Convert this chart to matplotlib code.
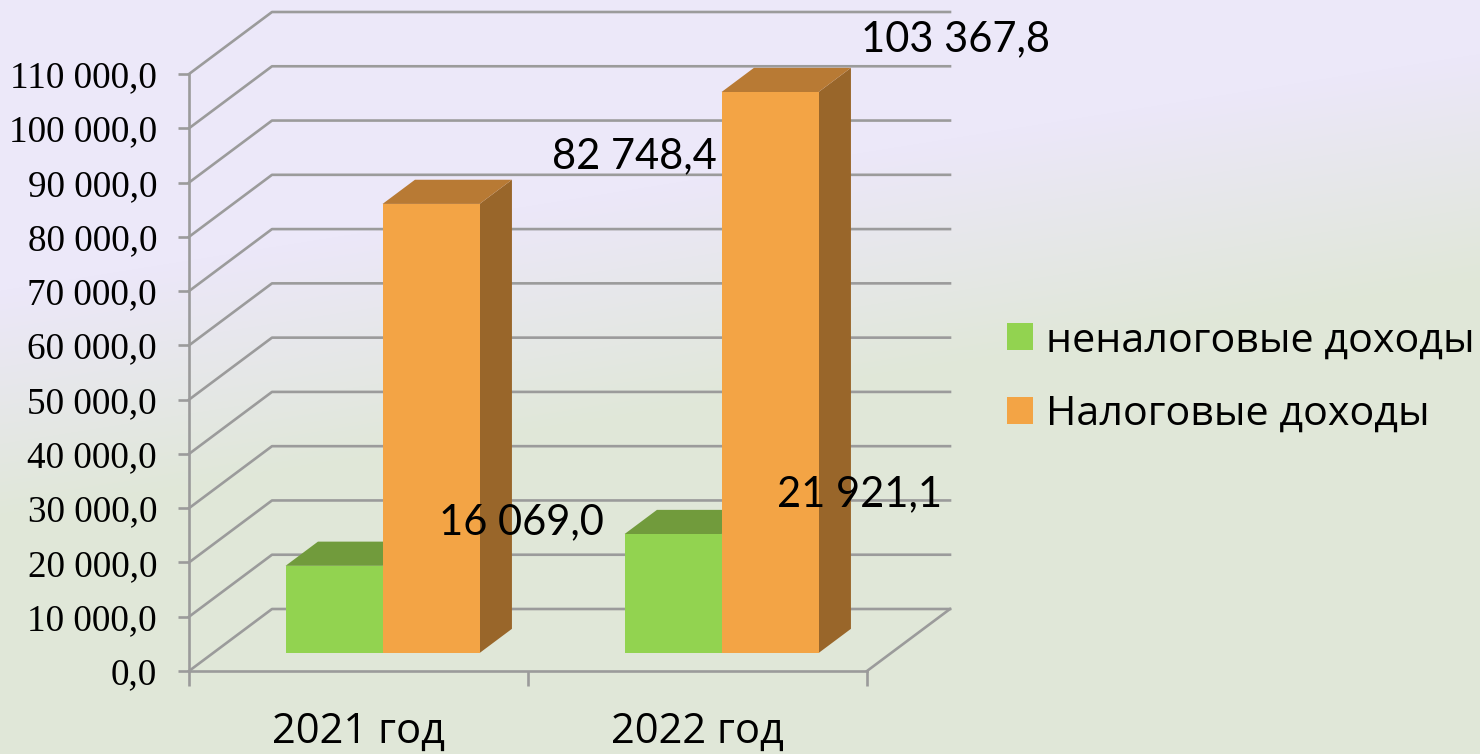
import numpy as np
import matplotlib
matplotlib.use('Agg')
import matplotlib.pyplot as plt
from matplotlib.patches import Polygon, Patch

years = ['2021 год', '2022 год']
series_names = ['неналоговые доходы', 'Налоговые доходы']
nontax = [16069.0, 21921.1]
tax = [82748.4, 103367.8]
nontax_labels = ['16 069,0', '21 921,1']
tax_labels = ['82 748,4', '103 367,8']
y_ticks = [0, 10000, 20000, 30000, 40000, 50000, 60000, 70000, 80000, 90000, 100000, 110000]
y_labels = ['0,0', '10 000,0', '20 000,0', '30 000,0', '40 000,0', '50 000,0',
            '60 000,0', '70 000,0', '80 000,0', '90 000,0', '100 000,0', '110 000,0']

W, H = 1480, 754
GRID = '#9b9b9b'
# fake 3d: how far the back wall is shifted, in axis units
DEPTH_X = 83 / 339
DEPTH_Y = 11424
BAR_W = 97 / 339
Z0, Z1 = 0.29, 0.68

fig = plt.figure(figsize=(W / 100, H / 100), dpi=100)

# background gradient
bg = fig.add_axes([0, 0, 1, 1], zorder=0)
xx, yy = np.meshgrid(np.arange(W), np.arange(H))
t = np.clip((yy - (290 - 0.16 * xx)) / 230, 0, 1)[..., None]
top = np.array([236, 232, 249]) / 255
bottom = np.array([224, 231, 216]) / 255
bg.imshow(top * (1 - t) + bottom * t, aspect='auto')
bg.set_axis_off()

ax = fig.add_axes([189 / W, (H - 671) / H, 678 / W, 597 / H], zorder=1)
ax.patch.set_alpha(0)
ax.set_xlim(0, 2)
ax.set_ylim(0, 110000)


def pr(x, y, z):
    return (x + z * DEPTH_X, y + z * DEPTH_Y)


def face(points, color, zorder):
    ax.add_patch(Polygon(points, closed=True, facecolor=color, edgecolor='none',
                         clip_on=False, zorder=zorder))


def bar3d(x0, value, front, roof, side, zorder):
    x1 = x0 + BAR_W
    face([pr(x1, 0, Z0), pr(x1, 0, Z1), pr(x1, value, Z1), pr(x1, value, Z0)], side, zorder)
    face([pr(x0, value, Z0), pr(x1, value, Z0), pr(x1, value, Z1), pr(x0, value, Z1)], roof, zorder)
    face([pr(x0, 0, Z0), pr(x1, 0, Z0), pr(x1, value, Z0), pr(x0, value, Z0)], front, zorder)


# walls
for v in y_ticks:
    ax.plot([0, DEPTH_X, 2 + DEPTH_X], [v, v + DEPTH_Y, v + DEPTH_Y],
            color=GRID, lw=1.9, clip_on=False, zorder=1)
ax.plot([2, 2 + DEPTH_X], [0, DEPTH_Y], color=GRID, lw=1.9, clip_on=False, zorder=1)

# bars, with label offsets in pixels from the top of the front face
label_off = {'nontax': [(187, 44), (186, 40)], 'tax': [(203, 48), (185, 53)]}
for i in range(len(years)):
    c = i + 0.5
    bar3d(c - BAR_W, nontax[i], '#92D350', '#719B3C', '#719B3C', 3)
    bar3d(c, tax[i], '#F3A445', '#B87A34', '#99662A', 4)
    x, y = pr(c - BAR_W / 2, nontax[i], Z0)
    dx, dy = label_off['nontax'][i]
    ax.annotate(nontax_labels[i], (x, y), xytext=(dx * 0.72, dy * 0.72), textcoords='offset points',
                ha='center', va='center', fontsize=30, family='Lato', color='black', zorder=6)
    x, y = pr(c + BAR_W / 2, tax[i], Z0)
    dx, dy = label_off['tax'][i]
    ax.annotate(tax_labels[i], (x, y), xytext=(dx * 0.72, dy * 0.72), textcoords='offset points',
                ha='center', va='center', fontsize=30, family='Lato', color='black', zorder=6,
                annotation_clip=False)

# axes
for s in ['top', 'right']:
    ax.spines[s].set_visible(False)
for s in ['left', 'bottom']:
    ax.spines[s].set_color(GRID)
    ax.spines[s].set_linewidth(1.9)
    ax.spines[s].set_zorder(2)
ax.set_yticks(y_ticks)
ax.set_yticklabels(y_labels, family='Liberation Serif', fontsize=26.7)
ax.tick_params(axis='y', length=8, width=1.9, color=GRID, pad=15)
ax.set_xticks([0, 1, 2])
ax.set_xticklabels([])
ax.tick_params(axis='x', which='major', length=11, width=1.9, color=GRID)
ax.set_xticks([0.5, 1.5], minor=True)
ax.set_xticklabels(years, minor=True, family='Open Sans', fontsize=30)
ax.tick_params(axis='x', which='minor', length=0, pad=29)

handles = [Patch(facecolor='#92D350', edgecolor='none'), Patch(facecolor='#F3A445', edgecolor='none')]
fig.legend(handles, series_names, loc='upper left', bbox_to_anchor=(1007 / W, 1 - 321 / H),
           frameon=False, prop={'family': 'Open Sans', 'size': 29.7}, handlelength=0.63,
           handleheight=0.63, handletextpad=0.32, labelspacing=0.79, borderpad=0, borderaxespad=0)

fig.savefig('out.png', dpi=100)
